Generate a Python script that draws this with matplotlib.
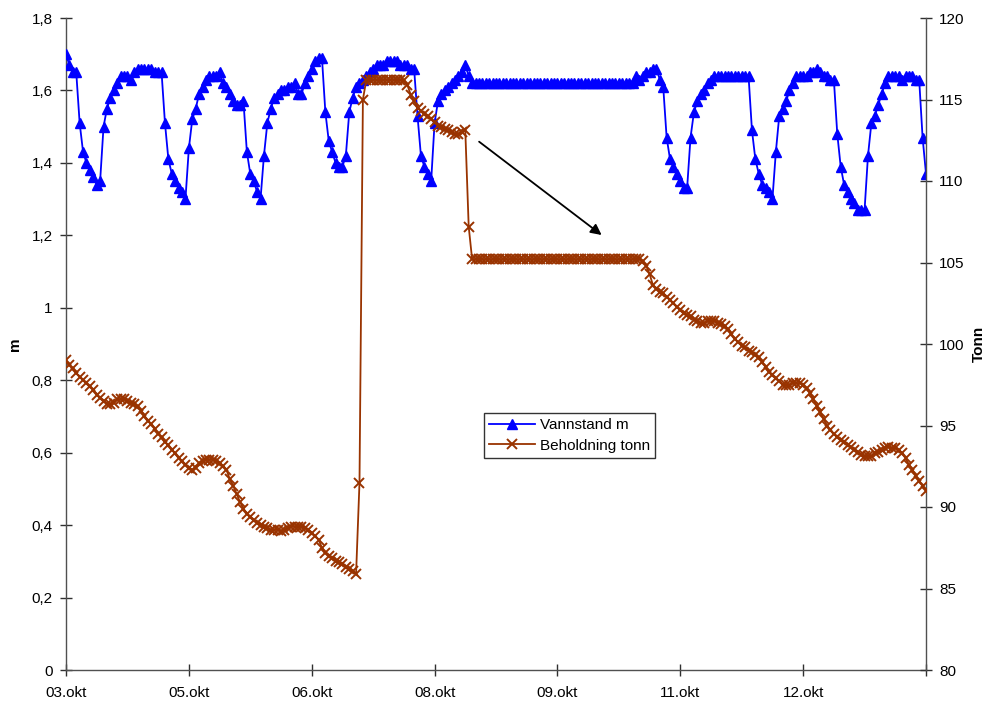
import matplotlib

matplotlib.use('Agg')

import matplotlib.pyplot as plt
from matplotlib.lines import Line2D
from matplotlib.ticker import FixedLocator, FuncFormatter

plt.rcParams['font.family'] = ['Liberation Sans', 'DejaVu Sans']

# hourly readings, tick label every 36 readings
tick_labels = ['03.okt', '05.okt', '06.okt', '08.okt', '09.okt', '11.okt', '12.okt']
tick_step = 36

vannstand = [
    1.70, 1.67, 1.65, 1.65, 1.51, 1.43, 1.40, 1.38, 1.36, 1.34, 1.35,
    1.50, 1.55, 1.58, 1.60, 1.62, 1.64, 1.64, 1.64, 1.63, 1.65, 1.66, 1.66, 1.66, 1.66, 1.66, 1.65, 1.65, 1.65,
    1.51, 1.41, 1.37, 1.35, 1.33, 1.32, 1.30,
    1.44, 1.52, 1.55, 1.59, 1.61, 1.63, 1.64, 1.64, 1.64, 1.65, 1.62, 1.61, 1.59, 1.57, 1.56, 1.56, 1.57,
    1.43, 1.37, 1.35, 1.32, 1.30,
    1.42, 1.51, 1.55, 1.58, 1.59, 1.60, 1.60, 1.61, 1.61, 1.62, 1.59, 1.59, 1.62, 1.64, 1.66, 1.68, 1.69, 1.69,
    1.54, 1.46, 1.43, 1.40, 1.39, 1.39,
    1.42, 1.54, 1.58, 1.61, 1.62, 1.63, 1.64, 1.65, 1.66, 1.67, 1.67, 1.67, 1.68, 1.68, 1.68, 1.68, 1.67, 1.67,
    1.67, 1.66, 1.66,
    1.53, 1.42, 1.39, 1.37, 1.35,
    1.51, 1.57, 1.59, 1.60, 1.61, 1.62, 1.63, 1.64, 1.65, 1.67, 1.64, 1.62,
    1.62, 1.62, 1.62, 1.62, 1.62, 1.62, 1.62, 1.62, 1.62, 1.62,
    1.62, 1.62, 1.62, 1.62, 1.62, 1.62, 1.62, 1.62, 1.62, 1.62,
    1.62, 1.62, 1.62, 1.62, 1.62, 1.62, 1.62, 1.62, 1.62, 1.62,
    1.62, 1.62, 1.62, 1.62, 1.62, 1.62, 1.62, 1.62, 1.62, 1.62,
    1.62, 1.62, 1.62, 1.62, 1.62, 1.62, 1.62,
    1.64, 1.63, 1.64, 1.65, 1.65, 1.66, 1.66, 1.63, 1.61,
    1.47, 1.41, 1.39, 1.37, 1.35, 1.33, 1.33,
    1.47, 1.54, 1.57, 1.59, 1.60, 1.62, 1.63, 1.64, 1.64, 1.64, 1.64, 1.64, 1.64, 1.64, 1.64, 1.64, 1.64, 1.64,
    1.49, 1.41, 1.37, 1.34, 1.33, 1.32, 1.30,
    1.43, 1.53, 1.55, 1.57, 1.60, 1.62, 1.64, 1.64, 1.64, 1.64, 1.65, 1.65, 1.66, 1.65, 1.64, 1.64, 1.63, 1.63,
    1.48, 1.39, 1.34, 1.32, 1.30, 1.29, 1.27, 1.27, 1.27,
    1.42, 1.51, 1.53, 1.56, 1.59, 1.62, 1.64, 1.64, 1.64, 1.64, 1.63, 1.64, 1.64, 1.64, 1.63, 1.63,
    1.47, 1.37,
]

beholdning = [
    99.0, 98.7, 98.5, 98.2, 98.0, 97.8, 97.6, 97.4, 97.2, 96.9,
    96.7, 96.5, 96.3, 96.3, 96.4, 96.6, 96.6, 96.6, 96.5, 96.4,
    96.3, 96.2, 95.9, 95.6, 95.3, 95.1, 94.8, 94.5, 94.3, 94.0,
    93.8, 93.5, 93.3, 93.0, 92.8, 92.6, 92.4, 92.3, 92.4, 92.7,
    92.8, 92.9, 92.9, 92.9, 92.8, 92.7, 92.5, 92.3, 91.7, 91.3,
    90.8, 90.3, 89.9, 89.6, 89.4, 89.2, 89.0, 88.9, 88.8, 88.7,
    88.6, 88.6, 88.6, 88.55, 88.6, 88.7, 88.8, 88.8, 88.8, 88.8,
    88.7, 88.6, 88.4, 88.2, 88.0, 87.5, 87.2, 87.0, 86.9, 86.7,
    86.6, 86.5, 86.3, 86.2, 86.1, 85.9, 91.5, 115.0,
    116.2, 116.2, 116.2, 116.2, 116.2, 116.2, 116.2, 116.2, 116.2, 116.2, 116.2, 116.2,
    115.9, 115.3, 114.9, 114.5, 114.3, 114.1, 114.0, 113.8, 113.6, 113.4,
    113.3, 113.2, 113.1, 113.0, 112.9, 112.9, 113.0, 113.1, 107.2, 105.2,
    105.2, 105.2, 105.2, 105.2, 105.2, 105.2, 105.2, 105.2, 105.2, 105.2,
    105.2, 105.2, 105.2, 105.2, 105.2, 105.2, 105.2, 105.2, 105.2, 105.2,
    105.2, 105.2, 105.2, 105.2, 105.2, 105.2, 105.2, 105.2, 105.2, 105.2,
    105.2, 105.2, 105.2, 105.2, 105.2, 105.2, 105.2, 105.2, 105.2, 105.2,
    105.2, 105.2, 105.2, 105.2, 105.2, 105.2, 105.2, 105.2,
    105.2, 105.1, 104.8, 104.3, 103.6, 103.4, 103.2, 103.1, 102.9, 102.7,
    102.5, 102.3, 102.1, 101.9, 101.8, 101.7, 101.5, 101.4, 101.3, 101.3,
    101.4, 101.4, 101.4, 101.3, 101.2, 101.1, 100.9, 100.6, 100.3, 100.1,
    99.9, 99.8, 99.6, 99.5, 99.3, 99.2, 98.9, 98.6, 98.3, 98.1,
    97.9, 97.7, 97.5, 97.5, 97.5, 97.6, 97.6, 97.6, 97.5, 97.3,
    97.0, 96.6, 96.2, 95.8, 95.4, 95.0, 94.7, 94.5, 94.3, 94.1,
    94.0, 93.8, 93.7, 93.5, 93.4, 93.2, 93.1, 93.1, 93.1, 93.3,
    93.4, 93.5, 93.6, 93.7, 93.6, 93.6, 93.5, 93.3, 93.0, 92.6,
    92.3, 91.9, 91.6, 91.3, 91.0,
]

blue = '#0000ff'
brown = '#993300'
fs = 11

fig = plt.figure(figsize=(9.9, 7.04), dpi=100)
ax = fig.add_axes([66 / 990, 1 - 670 / 704, 860 / 990, 652 / 704])
ax2 = ax.twinx()

ax.plot(range(len(vannstand)), vannstand, color=blue, lw=1.3,
        marker='^', ms=7.5, mec=blue, mfc=blue, zorder=3)
ax2.plot(range(len(beholdning)), beholdning, color=brown, lw=1.3,
         marker='x', ms=7, mew=1.4, zorder=3)

n_last = len(vannstand) - 1
ax.set_xlim(0, n_last)
ax.set_ylim(0, 1.8)
ax2.set_ylim(80, 120)

xt = [i * tick_step for i in range(len(tick_labels))] + [n_last]
ax.xaxis.set_major_locator(FixedLocator(xt))
ax.set_xticklabels(tick_labels + [''])
ax.set_yticks([i * 0.2 for i in range(10)])
ax.yaxis.set_major_formatter(FuncFormatter(lambda v, p: f'{v:g}'.replace('.', ',')))
ax2.set_yticks(range(80, 121, 5))

for a in (ax, ax2):
    a.spines['top'].set_visible(False)
    for s in a.spines.values():
        s.set_color('#505050')
        s.set_linewidth(1.0)
    a.tick_params(direction='inout', length=9, width=1.0, color='#303030',
                  labelsize=fs, colors='black', pad=5)
ax.tick_params(axis='x', pad=7)
ax2.spines['left'].set_visible(False)
ax2.spines['bottom'].set_visible(False)
ax.spines['right'].set_visible(False)

ax.set_ylabel('m', fontsize=fs, fontweight='bold', labelpad=7)
ax2.set_ylabel('Tonn', fontsize=fs, fontweight='bold', labelpad=5)

ax2.annotate('', xy=(157.6, 80 + (670 - 236.7) / 16.3), xytext=(120.4, 80 + (670 - 140) / 16.3),
             arrowprops=dict(arrowstyle='-|>', color='black', lw=1.3, mutation_scale=16))

handles = [
    Line2D([], [], color=blue, lw=1.3, marker='^', ms=7.5, mfc=blue, mec=blue),
    Line2D([], [], color=brown, lw=1.3, marker='x', ms=7, mew=1.4),
]
leg = ax2.legend(handles, ['Vannstand m', 'Beholdning tonn'], loc='upper left',
                 bbox_to_anchor=(0.486, 0.394), fontsize=fs, frameon=True,
                 fancybox=False, borderpad=0.35, handlelength=3.0,
                 handletextpad=0.3, labelspacing=0.4, borderaxespad=0)
leg.get_frame().set_edgecolor('black')
leg.get_frame().set_linewidth(1.0)

fig.savefig('out.png', dpi=100)
